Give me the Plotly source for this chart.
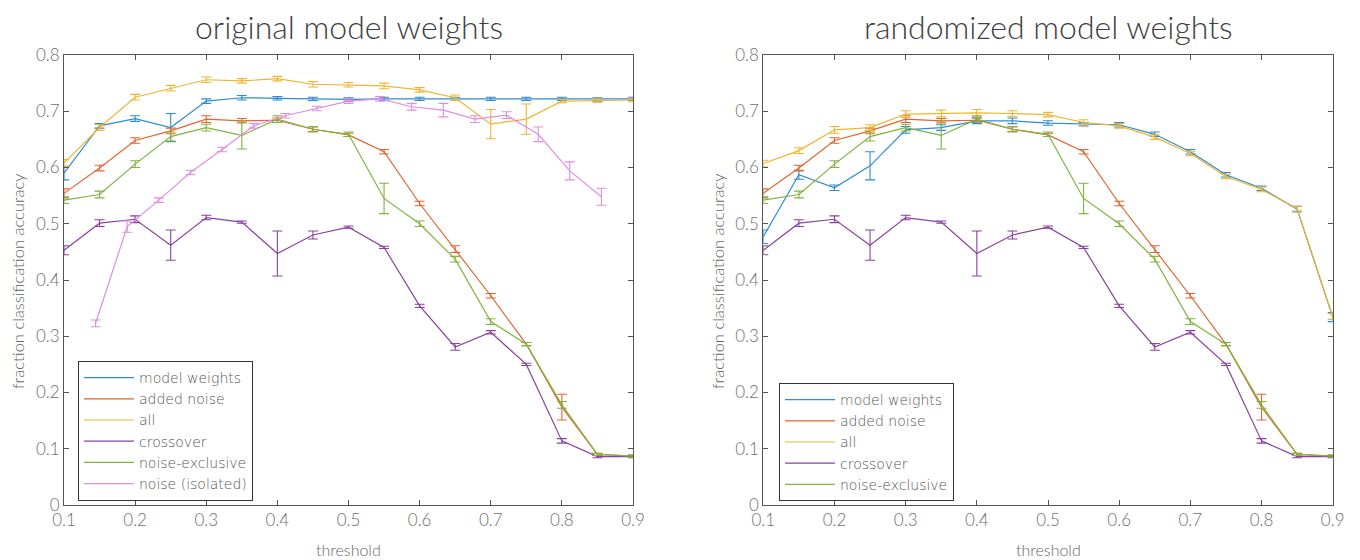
import plotly.graph_objects as go

# ---------------- data ----------------
thresholds = [0.1, 0.15, 0.2, 0.25, 0.3, 0.35, 0.4, 0.45, 0.5,
              0.55, 0.6, 0.65, 0.7, 0.75, 0.8, 0.85, 0.9]
iso_thresholds = [0.1444, 0.1889, 0.2333, 0.2778, 0.3222, 0.3667, 0.4111, 0.4556, 0.5,
                  0.5444, 0.5889, 0.6333, 0.6778, 0.7222, 0.7667, 0.8111, 0.8556]

# original model weights
orig_model = [0.590, 0.674, 0.687, 0.671, 0.718, 0.724, 0.723, 0.722, 0.721,
              0.722, 0.722, 0.722, 0.722, 0.722, 0.722, 0.721, 0.722]
orig_model_err = [0.012, 0.004, 0.005, 0.025, 0.004, 0.004, 0.003, 0.003, 0.003,
                  0.003, 0.003, 0.003, 0.003, 0.003, 0.003, 0.003, 0.003]
orig_all = [0.608, 0.671, 0.725, 0.741, 0.756, 0.754, 0.758, 0.748, 0.747,
            0.745, 0.738, 0.724, 0.677, 0.686, 0.718, 0.719, 0.720]
orig_all_err = [0.006, 0.005, 0.005, 0.005, 0.005, 0.004, 0.004, 0.005, 0.004,
                0.005, 0.004, 0.005, 0.026, 0.027, 0.003, 0.003, 0.003]
noise_isolated = [0.323, 0.495, 0.542, 0.591, 0.632, 0.674, 0.692, 0.705, 0.718,
                  0.722, 0.708, 0.702, 0.686, 0.693, 0.659, 0.594, 0.548]
noise_isolated_err = [0.006, 0.010, 0.004, 0.004, 0.004, 0.004, 0.004, 0.004, 0.004,
                      0.004, 0.006, 0.012, 0.006, 0.006, 0.013, 0.016, 0.015]

# series shared by both panels
added_noise = [0.554, 0.599, 0.648, 0.665, 0.686, 0.683, 0.684, 0.668, 0.658,
               0.628, 0.536, 0.455, 0.372, 0.286, 0.174, 0.090, 0.087]
added_noise_err = [0.008, 0.005, 0.005, 0.005, 0.006, 0.004, 0.004, 0.004, 0.003,
                   0.004, 0.004, 0.006, 0.004, 0.003, 0.023, 0.002, 0.002]
crossover = [0.453, 0.501, 0.508, 0.462, 0.511, 0.503, 0.447, 0.480, 0.494,
             0.458, 0.354, 0.281, 0.307, 0.250, 0.114, 0.086, 0.086]
crossover_err = [0.008, 0.006, 0.006, 0.027, 0.004, 0.002, 0.040, 0.007, 0.002,
                 0.002, 0.003, 0.006, 0.003, 0.002, 0.004, 0.002, 0.002]
noise_exclusive = [0.542, 0.552, 0.606, 0.655, 0.671, 0.657, 0.686, 0.668, 0.659,
                   0.545, 0.500, 0.437, 0.326, 0.286, 0.178, 0.090, 0.087]
noise_exclusive_err = [0.006, 0.006, 0.006, 0.008, 0.006, 0.024, 0.006, 0.005, 0.004,
                       0.027, 0.005, 0.005, 0.005, 0.003, 0.006, 0.002, 0.002]

# randomized model weights
rand_model = [0.477, 0.587, 0.564, 0.603, 0.667, 0.671, 0.683, 0.683, 0.679,
              0.677, 0.676, 0.659, 0.628, 0.587, 0.563, 0.526, 0.334]
rand_model_err = [0.012, 0.008, 0.005, 0.025, 0.006, 0.005, 0.005, 0.005, 0.004,
                  0.003, 0.004, 0.004, 0.004, 0.004, 0.004, 0.005, 0.008]
rand_all = [0.607, 0.630, 0.667, 0.671, 0.695, 0.696, 0.697, 0.696, 0.694,
            0.680, 0.674, 0.654, 0.625, 0.584, 0.561, 0.527, 0.335]
rand_all_err = [0.006, 0.005, 0.006, 0.005, 0.006, 0.006, 0.006, 0.005, 0.004,
                0.005, 0.004, 0.004, 0.004, 0.004, 0.004, 0.004, 0.005]

x_tickvals = [0.1, 0.2, 0.3, 0.4, 0.5, 0.6, 0.7, 0.8, 0.9]
x_ticktext = ["0.1", "0.2", "0.3", "0.4", "0.5", "0.6", "0.7", "0.8", "0.9"]
y_tickvals = [0, 0.1, 0.2, 0.3, 0.4, 0.5, 0.6, 0.7, 0.8]
y_ticktext = ["0", "0.1", "0.2", "0.3", "0.4", "0.5", "0.6", "0.7", "0.8"]

titles = ["original model weights", "randomized model weights"]
x_title = "threshold"
y_title = "fraction classification accuracy"

# ---------------- style ----------------
C_BLUE = "#2f8ccf"
C_ORANGE = "#e2652f"
C_YELLOW = "#f0b530"
C_PURPLE = "#8a42a0"
C_GREEN = "#80b43e"
C_PINK = "#e08ee0"
FONT = "Lato"
LEG_FONT = "DejaVu Sans"

# the page body has an 8px margin; work in window pixels and convert
OFF = 8
W, H = 1360 - OFF, 560 - OFF


def px(xw):
    return (xw - OFF) / W


def py(yw):
    return 1 - (yw - OFF) / H


fig = go.Figure()


def add(x, y, err, name, color, xa, ya, legend):
    fig.add_trace(go.Scatter(
        x=x, y=y, name=name, mode="lines",
        line=dict(color=color, width=1.2),
        error_y=dict(type="data", array=err, visible=True, color=color,
                     thickness=1.1, width=5),
        xaxis=xa, yaxis=ya, legend=legend,
    ))


# left panel
add(thresholds, orig_model, orig_model_err, "model weights", C_BLUE, "x", "y", "legend")
add(thresholds, added_noise, added_noise_err, "added noise", C_ORANGE, "x", "y", "legend")
add(thresholds, orig_all, orig_all_err, "all", C_YELLOW, "x", "y", "legend")
add(thresholds, crossover, crossover_err, "crossover", C_PURPLE, "x", "y", "legend")
add(thresholds, noise_exclusive, noise_exclusive_err, "noise-exclusive", C_GREEN, "x", "y", "legend")
add(iso_thresholds, noise_isolated, noise_isolated_err, "noise (isolated)", C_PINK, "x", "y", "legend")

# right panel
add(thresholds, rand_model, rand_model_err, "model weights", C_BLUE, "x2", "y2", "legend2")
add(thresholds, added_noise, added_noise_err, "added noise", C_ORANGE, "x2", "y2", "legend2")
add(thresholds, rand_all, rand_all_err, "all", C_YELLOW, "x2", "y2", "legend2")
add(thresholds, crossover, crossover_err, "crossover", C_PURPLE, "x2", "y2", "legend2")
add(thresholds, noise_exclusive, noise_exclusive_err, "noise-exclusive", C_GREEN, "x2", "y2", "legend2")

L_DOM = [px(64), px(633)]
R_DOM = [px(763.3), px(1332.7)]
Y_DOM = [py(505), py(55)]

axis_common = dict(
    showline=True, linecolor="#555555", linewidth=1, mirror="ticks",
    ticks="inside", ticklen=5, tickcolor="#555555", tickwidth=1,
    showgrid=False, zeroline=False, automargin=False,
    tickfont=dict(family=FONT, size=17, color="#6e6e6e", weight=300),
)

legend_common = dict(
    xanchor="left", yanchor="top",
    bgcolor="white", bordercolor="#333333", borderwidth=1,
    font=dict(family=LEG_FONT, size=14, color="#555555", weight=200),
    itemwidth=50, tracegroupgap=0,
)

fig.update_layout(
    width=W, height=H,
    template="none",
    paper_bgcolor="white", plot_bgcolor="white",
    margin=dict(l=0, r=0, t=0, b=0),
    font=dict(family=FONT, color="#555555"),
    xaxis=dict(domain=L_DOM, range=[0.1, 0.9], tickvals=x_tickvals, ticktext=x_ticktext,
               anchor="y", **axis_common),
    yaxis=dict(domain=Y_DOM, range=[0, 0.8], tickvals=y_tickvals, ticktext=y_ticktext,
               anchor="x", **axis_common),
    xaxis2=dict(domain=R_DOM, range=[0.1, 0.9], tickvals=x_tickvals, ticktext=x_ticktext,
                anchor="y2", **axis_common),
    yaxis2=dict(domain=Y_DOM, range=[0, 0.8], tickvals=y_tickvals, ticktext=y_ticktext,
                anchor="x2", **axis_common),
    legend=dict(x=px(78), y=py(361), **legend_common),
    legend2=dict(x=px(779), y=py(383), **legend_common),
    showlegend=True,
)

annotations = []
for cx, t in [((L_DOM[0] + L_DOM[1]) / 2, titles[0]), ((R_DOM[0] + R_DOM[1]) / 2, titles[1])]:
    annotations.append(dict(x=cx, y=py(26), xref="paper", yref="paper", text=t,
                            showarrow=False, xanchor="center", yanchor="middle",
                            font=dict(family=FONT, size=32, color="#404040", weight=300)))
for cx in [(L_DOM[0] + L_DOM[1]) / 2, (R_DOM[0] + R_DOM[1]) / 2]:
    annotations.append(dict(x=cx, y=py(549), xref="paper", yref="paper", text=x_title,
                            showarrow=False, xanchor="center", yanchor="middle",
                            font=dict(family=FONT, size=16, color="#666666", weight=300)))
for lx in [18, 718]:
    annotations.append(dict(x=px(lx), y=py(281), xref="paper", yref="paper", text=y_title,
                            showarrow=False, xanchor="center", yanchor="middle", textangle=-90,
                            font=dict(family=FONT, size=16.5, color="#666666", weight=300)))
fig.update_layout(annotations=annotations)

fig.write_html("out.html")
